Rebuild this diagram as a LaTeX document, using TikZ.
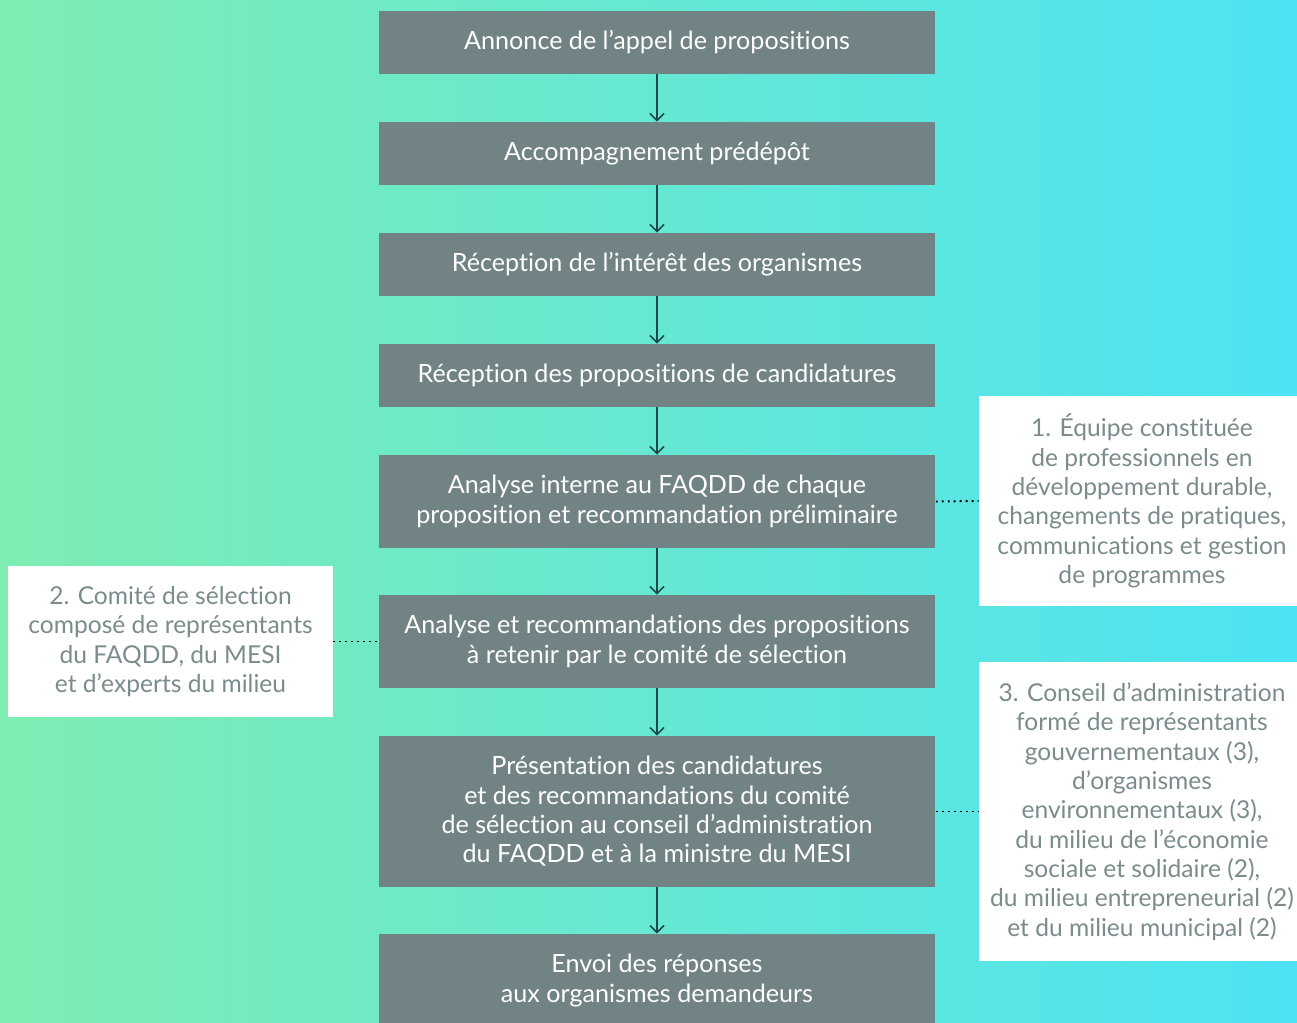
\documentclass[tikz,border=0pt]{standalone}
\usepackage{fontspec}
\setmainfont[Ligatures=NoCommon]{Lato}
\usetikzlibrary{arrows.meta}
\definecolor{bgleft}{HTML}{7EEDB2}
\definecolor{bgright}{HTML}{4DE3F3}
\definecolor{stepgray}{HTML}{718385}
\definecolor{notegray}{HTML}{7B8C8C}
\definecolor{arrowteal}{HTML}{1D4A48}
\tikzset{
    stepbox/.style={fill=stepgray, text=white, align=center, minimum width=11.14cm,
        inner sep=0pt, font=\fontsize{14.3}{16.7}\selectfont},
    notebox/.style={fill=white, text=notegray, align=center, inner sep=0pt,
        font=\fontsize{14}{16.7}\selectfont},
    flow/.style={draw=arrowteal, line width=0.9pt, -{Straight Barb[length=4pt, width=8pt]}},
    link/.style={draw=black, line width=1.1pt, dash pattern=on 1.1pt off 2.3pt}
}

\begin{document}
\begin{tikzpicture}[x=0.02cm, y=-0.02cm]
    % background
    \shade[left color=bgleft, right color=bgright] (0,0) rectangle (1297,1023);
    \useasboundingbox (0,0) rectangle (1297,1023);
    \begin{scope}
    \clip (0,0) rectangle (1297,1023);

    % steps
    \node[stepbox, minimum height=1.26cm] (annonce) at (657,42.5) {Annonce de l’appel de propositions};
    \node[stepbox, minimum height=1.26cm] (accomp) at (657,153.5) {Accompagnement prédépôt};
    \node[stepbox, minimum height=1.26cm] (interet) at (657,264.5) {Réception de l’intérêt des organismes};
    \node[stepbox, minimum height=1.26cm] (candid) at (657,375.5) {Réception des propositions de candidatures};
    \node[stepbox, minimum height=1.86cm] (interne) at (657,501.5)
        {Analyse interne au FAQDD de chaque\\proposition et recommandation préliminaire};
    \node[stepbox, minimum height=1.86cm] (comite) at (657,641.5)
        {Analyse et recommandations des propositions\\à retenir par le comité de sélection};
    \node[stepbox, minimum height=3.02cm] (present) at (657,811.5)
        {Présentation des candidatures\\et des recommandations du comité\\de sélection au conseil d’administration\\du FAQDD et à la ministre du MESI};
    \node[stepbox, minimum height=1.86cm] (envoi) at (657,980.5)
        {Envoi des réponses\\aux organismes demandeurs};

    % notes
    \node[notebox, minimum width=6.52cm, minimum height=4.2cm] (equipe) at (1142,501)
        {1. Équipe constituée\\de professionnels en\\développement durable,\\changements de pratiques,\\communications et gestion\\de programmes};
    \node[notebox, minimum width=6.5cm, minimum height=3.02cm] (selection) at (170.5,641.5)
        {2. Comité de sélection\\composé de représentants\\du FAQDD, du MESI\\et d’experts du milieu};
    \node[notebox, minimum width=6.52cm, minimum height=5.98cm] (conseil) at (1142,811.5)
        {3. Conseil d’administration\\formé de représentants\\gouvernementaux (3),\\d’organismes\\environnementaux (3),\\du milieu de l’économie\\sociale et solidaire (2),\\du milieu entrepreneurial (2)\\et du milieu municipal (2)};

    % arrows
    \foreach \a/\b in {annonce/accomp, accomp/interet, interet/candid, candid/interne,
                       interne/comite, comite/present, present/envoi}
        \draw[flow] (\a.south) -- (\b.north);

    % dotted links
    \draw[link] (interne.east) -- (equipe.west);
    \draw[link] (selection.east) -- (comite.west);
    \draw[link] (present.east) -- (conseil.west);
    \end{scope}
\end{tikzpicture}
\end{document}
